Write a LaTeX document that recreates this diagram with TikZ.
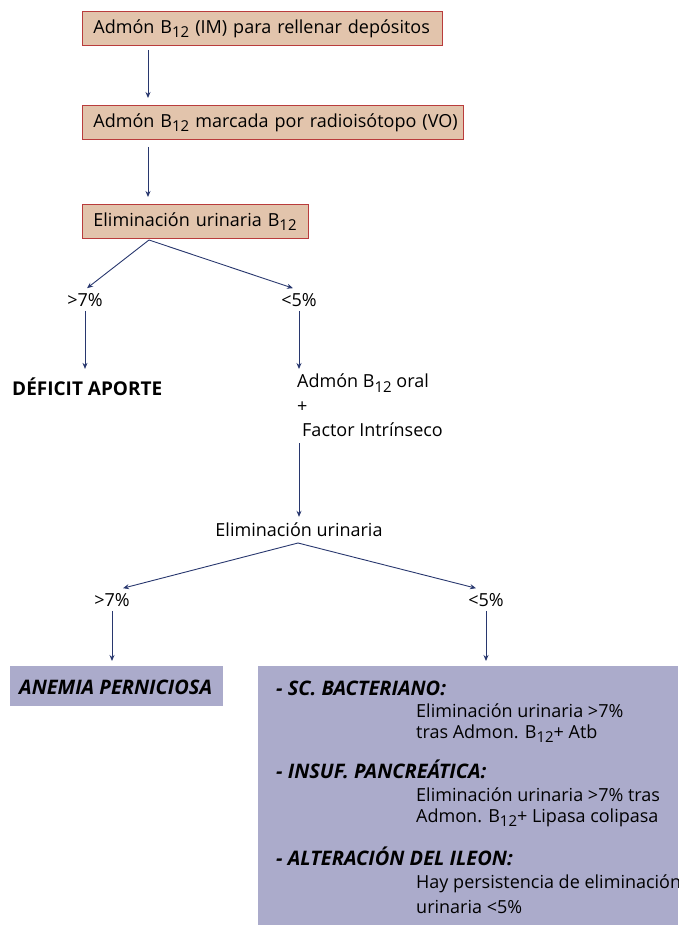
\documentclass[tikz,border=0pt]{standalone}
\usepackage{fontspec}
\setmainfont{Open Sans}
\usetikzlibrary{arrows.meta}

\definecolor{tanfill}{RGB}{226,196,172}
\definecolor{tanline}{RGB}{185,60,60}
\definecolor{lilac}{RGB}{171,171,203}
\definecolor{navy}{RGB}{40,55,110}

\newcommand{\bdoce}{B\raisebox{-0.45ex}{\fontsize{15}{17}\selectfont 12}}

\tikzset{
  stepbox/.style={draw=tanline, fill=tanfill, line width=0.8pt, anchor=north west,
    minimum height=34pt, inner xsep=11pt, align=left},
  flow/.style={-{Stealth[length=6pt,width=5pt]}, navy, line width=0.9pt},
  txt/.style={inner sep=0pt, font=\fontsize{18}{21}\selectfont},
  headtxt/.style={txt, font=\fontsize{20}{22}\selectfont\bfseries\itshape}
}

\begin{document}
\begin{tikzpicture}[x=1pt, y=-1pt, font=\fontsize{18}{21}\selectfont]
    \useasboundingbox (0,0) rectangle (678,925);

    % Draw the three tan steps
    \node[stepbox, text width=338pt] (dep) at (82,11) {\mbox{Admón \bdoce\ (IM) para rellenar depósitos}};
    \node[stepbox, text width=359pt] (radio) at (82,105) {\mbox{Admón \bdoce\ marcada por radioisótopo (VO)}};
    \node[stepbox, text width=204pt] (elim) at (82,204) {\mbox{Eliminación urinaria \bdoce}};
    \coordinate (axis) at (148,0);
    \draw[flow, shorten <=4pt, shorten >=7pt] (dep.south -| axis) -- (radio.north -| axis);
    \draw[flow, shorten <=7pt, shorten >=7pt] (radio.south -| axis) -- (elim.north -| axis);

    % First split
    \coordinate (split1) at (149,240);
    \node[txt] (gt1) at (85,300) {>7\%};
    \node[txt] (lt1) at (299,300) {<5\%};
    \draw[flow] (split1) -- ([xshift=2pt,yshift=5pt]gt1.north);
    \draw[flow] (split1) -- ([xshift=-6pt,yshift=5pt]lt1.north);
    \node[txt, font=\fontsize{19}{21}\selectfont\bfseries, anchor=west] (deficit) at (12,387) {DÉFICIT APORTE};
    \node[txt, anchor=north west, align=left, font=\fontsize{18}{24.5}\selectfont] (oral) at (297,374)
        {Admón \bdoce\ oral\\+\\\hspace*{5pt}Factor Intrínseco};
    \draw[flow, shorten <=4pt, shorten >=9pt] (gt1.south) -- (gt1.south |- deficit.north);
    \draw[flow, shorten <=4pt, shorten >=5pt] (lt1.south) -- (lt1.south |- oral.north);

    % Second split
    \node[txt] (elim2) at (299,530) {Eliminación urinaria};
    \draw[flow, shorten <=6pt, shorten >=6pt] (oral.south -| elim2.north) -- (elim2.north);
    \coordinate (split2) at (298,543);
    \node[txt] (gt2) at (112,600) {>7\%};
    \node[txt] (lt2) at (486,600) {<5\%};
    \draw[flow] (split2) -- ([xshift=11pt,yshift=5pt]gt2.north);
    \draw[flow] (split2) -- ([xshift=-10pt,yshift=5pt]lt2.north);

    % Results
    \node[fill=lilac, anchor=north west, minimum width=213pt, minimum height=40pt] (anemiabox) at (10,666) {};
    \node[headtxt, anchor=west] (anemia) at (19,687) {ANEMIA PERNICIOSA};
    \node[fill=lilac, anchor=north west, minimum width=420pt, minimum height=259pt] (causas) at (258,666) {};
    \draw[flow, shorten <=4pt, shorten >=5pt] (gt2.south) -- (gt2.south |- anemiabox.north);
    \draw[flow, shorten <=4pt, shorten >=5pt] (lt2.south) -- (lt2.south |- causas.north);

    \node[headtxt, anchor=base west] (bact) at (276,695) {- SC. BACTERIANO:};
    \node[txt, anchor=base west] at (416,717) {Eliminación urinaria >7\%};
    \node[txt, anchor=base west] at (416,738) {tras Admon. \bdoce+ Atb};
    \node[headtxt, anchor=base west] (pancr) at (276,778) {- INSUF. PANCREÁTICA:};
    \node[txt, anchor=base west] at (416,801) {Eliminación urinaria >7\% tras};
    \node[txt, anchor=base west] at (416,822) {Admon. \bdoce+ Lipasa colipasa};
    \node[headtxt, anchor=base west] (ileon) at (276,865) {- ALTERACIÓN DEL ILEON:};
    \node[txt, anchor=base west] at (416,888) {Hay persistencia de eliminación};
    \node[txt, anchor=base west] at (416,913) {urinaria <5\%};
\end{tikzpicture}
\end{document}
